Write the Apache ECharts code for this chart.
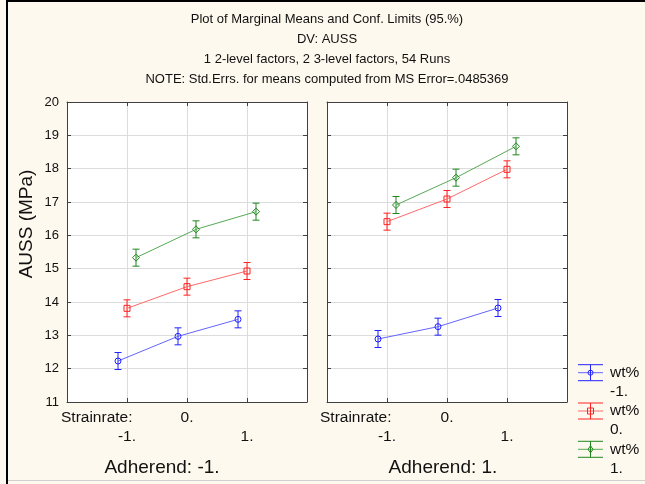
<!DOCTYPE html>
<html>
<head>
<meta charset="utf-8">
<script src="https://cdn.jsdelivr.net/npm/echarts@6/dist/echarts.min.js"></script>
<style>
html,body{margin:0;padding:0;background:#FEF9EE;}
#c{width:645px;height:484px;}
</style>
</head>
<body>
<div id="c"></div>
<script>
// ---- data ----
const titleLines = [
  'Plot of Marginal Means and Conf. Limits (95.%)',
  'DV: AUSS',
  '1 2-level factors, 2 3-level factors, 54 Runs',
  'NOTE: Std.Errs. for means computed from MS Error=.0485369'
];
const strainrate = [-1, 0, 1];
const strainLabels = ['-1.', '0.', '1.'];
const wtLevels = ['-1.', '0.', '1.'];
const adherendLabels = ['Adherend: -1.', 'Adherend: 1.'];
const yName = 'AUSS (MPa)';
// means: Adherend -1
const adhM1_wtM1 = [12.23, 12.97, 13.48];
const adhM1_wt0  = [13.81, 14.46, 14.93];
const adhM1_wt1  = [15.33, 16.18, 16.71];
// means: Adherend 1
const adh1_wtM1 = [12.89, 13.26, 13.82];
const adh1_wt0  = [16.41, 17.09, 17.98];
const adh1_wt1  = [16.91, 17.73, 18.67];
const ciHalf = 0.255;

// ---- styling ----
const FONT = '"Liberation Sans", Arial, sans-serif';
const dodge = [-0.15, 0, 0.15];
const lineColors = ['#6464ff', '#ff6a6a', '#55aa55'];
const barColors = ['#2222ff', '#ff2222', '#1f861f'];
const symbols = ['circle', 'rect', 'diamond'];
const symbolSizes = [6, 6, 7];
const panels = [[adhM1_wtM1, adhM1_wt0, adhM1_wt1], [adh1_wtM1, adh1_wt0, adh1_wt1]];
const gridLefts = [67, 327];

const grids = gridLefts.map(l => ({left: l, top: 102, width: 240, height: 300, show: true, backgroundColor: '#ffffff', borderWidth: 0}));

const axisLineStyle = {show: true, onZero: false, lineStyle: {color: '#404040', width: 1}};
const tickStyle = {show: true, inside: true, length: 4, lineStyle: {color: '#404040'}};

const xAxes = [];
const yAxes = [];
[0, 1].forEach(p => {
  xAxes.push({
    gridIndex: p, type: 'value', min: -2, max: 2, interval: 1, position: 'bottom',
    axisLine: axisLineStyle, axisTick: tickStyle,
    splitLine: {show: true, lineStyle: {color: '#dcdcdc', width: 1}},
    axisLabel: {
      show: true, margin: 6, fontSize: 15.5, fontFamily: FONT, color: '#111', lineHeight: 19,
      showMinLabel: true, showMaxLabel: true,
      formatter: v => {
        const i = strainrate.indexOf(v);
        if (i < 0) return '';
        return (i % 2 === 0 ? '\n' : '') + strainLabels[i];
      }
    }
  });
});
[0, 1].forEach(p => {
  xAxes.push({
    gridIndex: p, type: 'value', min: -2, max: 2, interval: 1, position: 'top',
    axisLine: axisLineStyle, axisTick: tickStyle, splitLine: {show: false}, axisLabel: {show: false}
  });
});
[0, 1].forEach(p => {
  yAxes.push({
    gridIndex: p, type: 'value', min: 11, max: 20, interval: 1, position: 'left',
    axisLine: axisLineStyle, axisTick: tickStyle,
    splitLine: {show: true, lineStyle: {color: '#dcdcdc', width: 1}},
    axisLabel: {show: p === 0, margin: 8, fontSize: 13, fontFamily: FONT, color: '#111',
      showMinLabel: true, showMaxLabel: true}
  });
});
[0, 1].forEach(p => {
  yAxes.push({
    gridIndex: p, type: 'value', min: 11, max: 20, interval: 1, position: 'right',
    axisLine: axisLineStyle, axisTick: tickStyle, splitLine: {show: false}, axisLabel: {show: false}
  });
});

const series = [];
panels.forEach((panel, p) => {
  panel.forEach((vals, w) => {
    series.push({
      type: 'custom', xAxisIndex: p, yAxisIndex: p, z: 3,
      data: strainrate.map((s, i) => [s + dodge[w], vals[i] - ciHalf, vals[i] + ciHalf]),
      renderItem: (params, api) => {
        const x = api.value(0);
        const a = api.coord([x, api.value(1)]);
        const b = api.coord([x, api.value(2)]);
        const cap = 3.5;
        const st = {stroke: barColors[w], lineWidth: 1};
        return {type: 'group', children: [
          {type: 'line', shape: {x1: a[0], y1: a[1], x2: b[0], y2: b[1]}, style: st},
          {type: 'line', shape: {x1: a[0] - cap, y1: a[1], x2: a[0] + cap, y2: a[1]}, style: st},
          {type: 'line', shape: {x1: b[0] - cap, y1: b[1], x2: b[0] + cap, y2: b[1]}, style: st}
        ]};
      }
    });
    series.push({
      type: 'line', xAxisIndex: p, yAxisIndex: p, z: 4,
      data: strainrate.map((s, i) => [s + dodge[w], vals[i]]),
      symbol: symbols[w], symbolSize: symbolSizes[w], showSymbol: true,
      lineStyle: {color: lineColors[w], width: 1},
      itemStyle: {color: 'rgba(255,255,255,0)', borderColor: barColors[w], borderWidth: 1},
      animation: false
    });
  });
});

const graphics = [];
// frame
graphics.push({type: 'rect', shape: {x: 6, y: 0, width: 2, height: 484}, style: {fill: '#000'}, silent: true});
graphics.push({type: 'rect', shape: {x: 6, y: 0, width: 639, height: 2}, style: {fill: '#000'}, silent: true});
graphics.push({type: 'rect', shape: {x: 8, y: 480, width: 637, height: 1}, style: {fill: '#d0d0d0'}, silent: true});
// title
graphics.push({type: 'text', x: 327, y: 9, style: {text: titleLines.join('\n'), textAlign: 'center', textVerticalAlign: 'top',
  font: '13px ' + FONT, lineHeight: 20, fill: '#111'}});
// y name
graphics.push({type: 'text', x: 27, y: 224, rotation: Math.PI / 2, style: {text: yName, textAlign: 'center', textVerticalAlign: 'middle',
  font: '19px ' + FONT, fill: '#111'}});
// Strainrate labels and adherend labels
const strainX = [61, 320];
const adhX = [162, 443];
[0, 1].forEach(p => {
  graphics.push({type: 'text', x: strainX[p], y: 418, style: {text: 'Strainrate:', textAlign: 'left', textVerticalAlign: 'middle',
    font: '15.5px ' + FONT, fill: '#111'}});
  graphics.push({type: 'text', x: adhX[p], y: 468, style: {text: adherendLabels[p], textAlign: 'center', textVerticalAlign: 'middle',
    font: '19px ' + FONT, fill: '#111'}});
});
// legend
wtLevels.forEach((lv, w) => {
  const cy = 372.7 + w * 38.3;
  const x0 = 578, x1 = 603, xc = 590.5, h = 8;
  graphics.push({type: 'line', shape: {x1: x0, y1: cy, x2: x1, y2: cy}, style: {stroke: lineColors[w], lineWidth: 1}});
  graphics.push({type: 'line', shape: {x1: x0, y1: cy - h, x2: x1, y2: cy - h}, style: {stroke: barColors[w], lineWidth: 1}});
  graphics.push({type: 'line', shape: {x1: x0, y1: cy + h, x2: x1, y2: cy + h}, style: {stroke: barColors[w], lineWidth: 1}});
  graphics.push({type: 'line', shape: {x1: xc, y1: cy - h, x2: xc, y2: cy + h}, style: {stroke: barColors[w], lineWidth: 1}});
  if (w === 0) graphics.push({type: 'circle', shape: {cx: xc, cy: cy, r: 2.5}, style: {fill: 'none', stroke: barColors[w]}});
  if (w === 1) graphics.push({type: 'rect', shape: {x: xc - 3, y: cy - 3, width: 6, height: 6}, style: {fill: 'none', stroke: barColors[w]}});
  if (w === 2) graphics.push({type: 'polygon', shape: {points: [[xc, cy - 3.5], [xc + 2.5, cy], [xc, cy + 3.5], [xc - 2.5, cy]]}, style: {fill: 'none', stroke: barColors[w]}});
  graphics.push({type: 'text', x: 610, y: cy, style: {text: 'wt%', textAlign: 'left', textVerticalAlign: 'middle', font: '15.5px ' + FONT, fill: '#111'}});
  graphics.push({type: 'text', x: 610, y: cy + 19, style: {text: lv, textAlign: 'left', textVerticalAlign: 'middle', font: '15.5px ' + FONT, fill: '#111'}});
});

const chart = echarts.init(document.getElementById('c'), null, {renderer: 'canvas'});
chart.setOption({
  backgroundColor: '#FEF9EE',
  animation: false,
  textStyle: {fontFamily: FONT},
  grid: grids,
  xAxis: xAxes,
  yAxis: yAxes,
  series: series,
  graphic: graphics
});
</script>
</body>
</html>
